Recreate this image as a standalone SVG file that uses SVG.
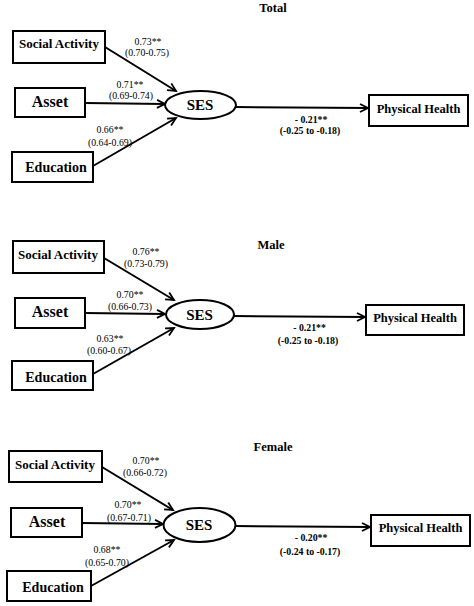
<svg xmlns="http://www.w3.org/2000/svg" width="474" height="606" viewBox="0 0 474 606">
<style>
.box{fill:#fff;stroke:#000;stroke-width:2}
.ell{fill:#fff;stroke:#000;stroke-width:2}
.ln{stroke:#000;stroke-width:2;fill:none}
text{font-family:'Liberation Serif','Times New Roman',serif;fill:#000;text-anchor:middle}
.t{font-weight:bold;font-size:12.5px}
.sa{font-weight:bold;font-size:13px}
.as{font-weight:bold;font-size:16px}
.ed{font-weight:bold;font-size:14px}
.ses{font-weight:bold;font-size:15px}
.ph{font-weight:bold;font-size:12.5px}
.c{font-size:9.8px}
.cb{font-size:9.8px;font-weight:bold}
</style>
<defs>
<marker id="ah" markerUnits="userSpaceOnUse" markerWidth="12" markerHeight="12" refX="9" refY="5" orient="auto">
<path d="M1,1 L9,5 L1,9" fill="none" stroke="#000" stroke-width="1.8"/>
</marker>
</defs>
<rect width="474" height="606" fill="#fff"/>

<g id="connectors">
<line class="ln" x1="105" y1="47" x2="176" y2="91" marker-end="url(#ah)"/>
<line class="ln" x1="85" y1="103" x2="165" y2="104" marker-end="url(#ah)"/>
<line class="ln" x1="93" y1="166" x2="176" y2="118" marker-end="url(#ah)"/>
<line class="ln" x1="236" y1="107" x2="368" y2="108" marker-end="url(#ah)"/>

<line class="ln" x1="104" y1="258" x2="174" y2="300" marker-end="url(#ah)"/>
<line class="ln" x1="85" y1="313" x2="165" y2="314" marker-end="url(#ah)"/>
<line class="ln" x1="93" y1="374" x2="174" y2="328" marker-end="url(#ah)"/>
<line class="ln" x1="234" y1="316" x2="365" y2="317" marker-end="url(#ah)"/>

<line class="ln" x1="102" y1="467" x2="173" y2="510" marker-end="url(#ah)"/>
<line class="ln" x1="82" y1="523" x2="163" y2="524" marker-end="url(#ah)"/>
<line class="ln" x1="91" y1="586" x2="174" y2="540" marker-end="url(#ah)"/>
<line class="ln" x1="235" y1="526" x2="370" y2="527" marker-end="url(#ah)"/>
</g>

<g id="labels">
<text class="t" x="273" y="12">Total</text>
<text class="c" x="148" y="45">0.73**</text>
<text class="c" x="147" y="56">(0.70-0.75)</text>
<text class="c" x="130" y="88">0.71**</text>
<text class="c" x="131" y="99">(0.69-0.74)</text>
<text class="c" x="110" y="133">0.66**</text>
<text class="c" x="110" y="146">(0.64-0.69)</text>
<text class="cb" x="311" y="123">- 0.21**</text>
<text class="cb" x="310" y="134">(-0.25 to -0.18)</text>

<text class="t" x="271" y="249">Male</text>
<text class="c" x="146" y="255">0.76**</text>
<text class="c" x="146" y="267">(0.73-0.79)</text>
<text class="c" x="130" y="297.5">0.70**</text>
<text class="c" x="130" y="310">(0.66-0.73)</text>
<text class="c" x="110" y="341.5">0.63**</text>
<text class="c" x="109" y="354">(0.60-0.67)</text>
<text class="cb" x="309.5" y="331">- 0.21**</text>
<text class="cb" x="308" y="344">(-0.25 to -0.18)</text>

<text class="t" x="273" y="451">Female</text>
<text class="c" x="146" y="464">0.70**</text>
<text class="c" x="145" y="476">(0.66-0.72)</text>
<text class="c" x="128" y="508">0.70**</text>
<text class="c" x="129" y="521">(0.67-0.71)</text>
<text class="c" x="107" y="553">0.68**</text>
<text class="c" x="107" y="566">(0.65-0.70)</text>
<text class="cb" x="311" y="541">- 0.20**</text>
<text class="cb" x="310" y="555">(-0.24 to -0.17)</text>
</g>

<g id="total-social"><rect class="box" x="13" y="31" width="92" height="32"/><text class="sa" x="59" y="47.5">Social Activity</text></g>
<g id="total-asset"><rect class="box" x="15" y="88" width="70" height="29"/><text class="as" x="50" y="107">Asset</text></g>
<g id="total-education"><rect class="box" x="12" y="152" width="81" height="30"/><text class="ed" x="56" y="172">Education</text></g>
<g id="total-ses"><ellipse class="ell" cx="200.5" cy="105" rx="35.5" ry="14"/><text class="ses" x="200" y="109.5">SES</text></g>
<g id="total-ph"><rect class="box" x="369" y="95" width="99" height="31"/><text class="ph" x="418.5" y="112.5">Physical Health</text></g>

<g id="male-social"><rect class="box" x="13" y="241" width="91" height="32"/><text class="sa" x="58" y="259">Social Activity</text></g>
<g id="male-asset"><rect class="box" x="15" y="298" width="70" height="30"/><text class="as" x="50" y="317">Asset</text></g>
<g id="male-education"><rect class="box" x="12" y="361" width="81" height="29"/><text class="ed" x="56" y="382">Education</text></g>
<g id="male-ses"><ellipse class="ell" cx="200" cy="314.5" rx="34" ry="14.5"/><text class="ses" x="199.5" y="319.5">SES</text></g>
<g id="male-ph"><rect class="box" x="366" y="305" width="98" height="30"/><text class="ph" x="415" y="321.5">Physical Health</text></g>

<g id="female-social"><rect class="box" x="9" y="451" width="93" height="31"/><text class="sa" x="55" y="469">Social Activity</text></g>
<g id="female-asset"><rect class="box" x="11" y="508" width="71" height="29"/><text class="as" x="47" y="527">Asset</text></g>
<g id="female-education"><rect class="box" x="7" y="571" width="84" height="30"/><text class="ed" x="53" y="592">Education</text></g>
<g id="female-ses"><ellipse class="ell" cx="199.5" cy="525" rx="36" ry="17"/><text class="ses" x="199" y="530">SES</text></g>
<g id="female-ph"><rect class="box" x="371" y="515" width="99" height="31"/><text class="ph" x="420.5" y="532">Physical Health</text></g>
</svg>
